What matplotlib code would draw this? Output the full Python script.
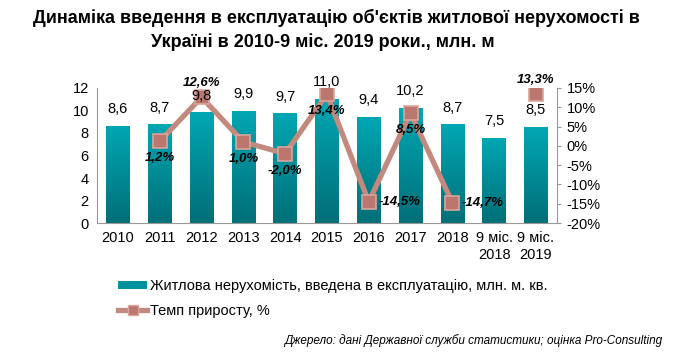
import matplotlib.pyplot as plt
import numpy as np
from matplotlib.colors import LinearSegmentedColormap
from matplotlib.lines import Line2D
from matplotlib.patches import Patch

plt.rcParams['font.family'] = ['Liberation Sans', 'DejaVu Sans']

categories = ["2010", "2011", "2012", "2013", "2014", "2015", "2016", "2017", "2018",
              "9 міс.\n2018", "9 міс.\n2019"]
area = [8.6, 8.7, 9.8, 9.9, 9.7, 11.0, 9.4, 10.2, 8.7, 7.5, 8.5]
growth = [np.nan, 1.2, 12.6, 1.0, -2.0, 13.4, -14.5, 8.5, -14.7, np.nan, 13.3]
growth_pos = ["", "below", "above", "below", "below", "below", "right", "below", "right", "", "above"]

fig = plt.figure(figsize=(6.79, 3.53), dpi=100)
ax = fig.add_axes([0.143, 0.368, 0.677, 0.383])
x = np.arange(len(categories))

bars = ax.bar(x, area, width=0.56, color="none", zorder=2)
cmap = LinearSegmentedColormap.from_list("teal", ["#006f78", "#00a7b3"])
grad = np.linspace(0, 1, 100).reshape(-1, 1)
for b in bars:
    ax.imshow(grad, cmap=cmap, origin="lower", aspect="auto", zorder=2,
              extent=[b.get_x(), b.get_x() + b.get_width(), 0, b.get_height()])

ax.set_xlim(-0.5, len(categories) - 0.5)
ax.set_ylim(0, 12)
ax.set_yticks(range(0, 13, 2))
ax.set_xticks(x)
ax.set_xticklabels(categories, fontsize=10.5)
ax.tick_params(axis="y", labelsize=10.5, length=0, pad=6)
ax.tick_params(axis="x", length=0, pad=6)
for s in ["top", "right"]:
    ax.spines[s].set_visible(False)
for s in ["left", "bottom"]:
    ax.spines[s].set_color("#999999")

ax2 = ax.twinx()
ax2.set_ylim(-20, 15)
ax2.set_yticks(range(-20, 16, 5))
ax2.set_yticklabels([f"{t}%" for t in range(-20, 16, 5)], fontsize=10.5)
ax2.tick_params(axis="y", length=3, color="#999999", pad=4)
for s in ["top", "left", "bottom"]:
    ax2.spines[s].set_visible(False)
ax2.spines["right"].set_color("#999999")

line_c = "#c2897f"
ax2.plot(x, growth, color=line_c, lw=3.8, marker="s", markersize=9.5,
         markerfacecolor="#bb776e", markeredgecolor="#d9a49c", markeredgewidth=1.2, zorder=4)

# bar value labels drawn on top of the line
for xi, v in zip(x, area):
    ax2.text(xi, v + 0.9, f"{v:.1f}".replace(".", ","), ha="center", va="bottom",
             fontsize=10.5, zorder=5, transform=ax.transData)

for xi, g, p in zip(x, growth, growth_pos):
    if np.isnan(g):
        continue
    t = f"{g:.1f}%".replace(".", ",")
    if p == "above":
        ax2.annotate(t, (xi, g), xytext=(0, 6), textcoords="offset points", ha="center", va="bottom",
                     fontsize=9.5, fontweight="bold", fontstyle="italic", zorder=6)
    elif p == "below":
        ax2.annotate(t, (xi, g), xytext=(0, -8), textcoords="offset points", ha="center", va="top",
                     fontsize=9.5, fontweight="bold", fontstyle="italic", zorder=6)
    else:
        ax2.annotate(t, (xi, g), xytext=(7, 0), textcoords="offset points", ha="left", va="center",
                     fontsize=9.5, fontweight="bold", fontstyle="italic", zorder=6)

fig.text(0.495, 0.948, "Динаміка введення в експлуатацію об'єктів житлової нерухомості в",
         ha="center", va="center", fontsize=13, fontweight="bold")
fig.text(0.475, 0.88, "Україні в 2010-9 міс. 2019 роки., млн. м",
         ha="center", va="center", fontsize=13, fontweight="bold")

handles = [Patch(facecolor="#00939e", edgecolor="none"),
           Line2D([0], [0], color=line_c, lw=3.8, marker="s", markersize=7,
                  markerfacecolor="#bb776e", markeredgecolor="#d9a49c")]
labels = ["Житлова нерухомість, введена в експлуатацію, млн. м. кв.", "Темп приросту, %"]
fig.legend(handles, labels, loc="upper left", bbox_to_anchor=(0.174, 0.21), frameon=False,
           fontsize=10.5, handlelength=2.0, handleheight=0.45, handletextpad=0.15,
           labelspacing=0.75, borderaxespad=0, borderpad=0)

fig.text(0.975, 0.035, "Джерело: дані Державної служби статистики; оцінка Pro-Consulting",
         ha="right", va="center", fontsize=8.5, fontstyle="italic")

fig.savefig("out.png", dpi=100)
